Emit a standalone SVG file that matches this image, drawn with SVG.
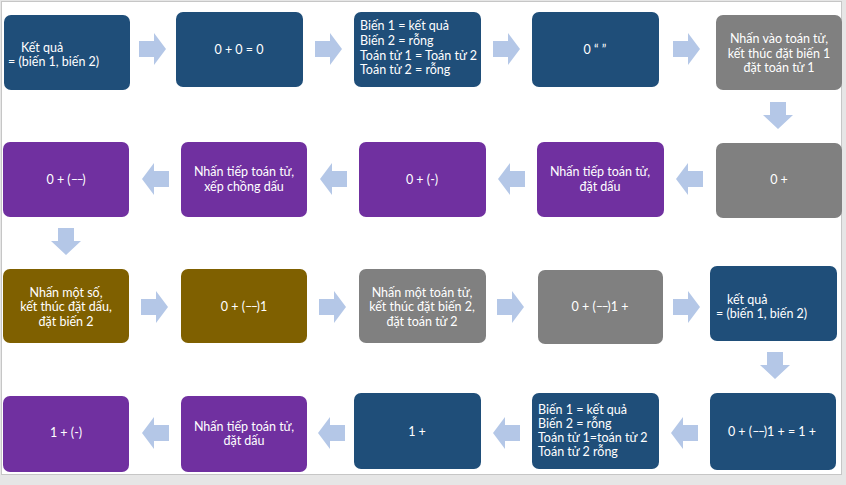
<svg xmlns="http://www.w3.org/2000/svg" xmlns:xlink="http://www.w3.org/1999/xlink" width="846" height="485" viewBox="0 0 846 485">
<style>
.blue{fill:#1f4e79}
.pur{fill:#7030a0}
.olv{fill:#7f6000}
.gry{fill:#808080}
text{font-family:Lato,"Liberation Sans",sans-serif;font-size:12.5px;fill:#ffffff}
.c{text-anchor:middle}
.d{letter-spacing:-1.5px}
.arr{fill:#b4c7e7}
</style>
<defs>
<path id="ra" d="M0,8 H15 V0 L27,16 L15,32 V24 H0 Z"/>
<path id="la" d="M27,8 H12 V0 L0,16 L12,32 V24 H27 Z"/>
<path id="da" d="M7,0 H23 V13 H30 L15,27 L0,13 H7 Z"/>
</defs>
<rect x="0" y="0" width="846" height="485" fill="#e6e6e6"/>
<rect x="1.5" y="1.5" width="840" height="473" fill="#ffffff" stroke="#c6c6c6" stroke-width="1"/>

<g id="connectors" class="arr">
<use xlink:href="#ra" x="139" y="33"/>
<use xlink:href="#ra" x="315" y="33"/>
<use xlink:href="#ra" x="493" y="33"/>
<use xlink:href="#ra" x="673" y="33"/>
<use xlink:href="#da" x="763" y="102"/>
<use xlink:href="#la" x="676" y="163"/>
<use xlink:href="#la" x="498" y="163"/>
<use xlink:href="#la" x="320" y="163"/>
<use xlink:href="#la" x="142" y="163"/>
<use xlink:href="#da" x="51" y="228"/>
<use xlink:href="#ra" x="141" y="291"/>
<use xlink:href="#ra" x="319" y="291"/>
<use xlink:href="#ra" x="497" y="291"/>
<use xlink:href="#ra" x="673" y="291"/>
<use xlink:href="#da" x="760" y="352"/>
<use xlink:href="#la" x="671" y="417"/>
<use xlink:href="#la" x="493" y="417"/>
<use xlink:href="#la" x="318" y="417"/>
<use xlink:href="#la" x="142" y="417"/>
</g>

<g id="n1"><rect class="blue" x="4" y="15" width="126" height="75" rx="7"/>
<text x="21" y="52">Kết quả</text><text x="8" y="66">= (biến 1, biến 2)</text></g>
<g id="n2"><rect class="blue" x="176" y="12" width="127" height="75" rx="7"/>
<text class="c" x="239" y="54">0 + 0 = 0</text></g>
<g id="n3"><rect class="blue" x="354" y="12" width="127" height="75" rx="7"/>
<text x="360" y="30">Biến 1 = kết quả</text><text x="360" y="45">Biến 2 = rỗng</text><text x="360" y="60">Toán tử 1 = Toán tử 2</text><text x="360" y="74">Toán tử 2 = rỗng</text></g>
<g id="n4"><rect class="blue" x="532" y="12" width="127" height="75" rx="7"/>
<text class="c" x="595" y="54">0 “ ”</text></g>
<g id="n5"><rect class="gry" x="716" y="15" width="126" height="75" rx="7"/>
<text class="c" x="779" y="43">Nhấn vào toán tử,</text><text class="c" x="779" y="58">kết thúc đặt biến 1</text><text class="c" x="779" y="72">đặt toán tử 1</text></g>

<g id="n6"><rect class="gry" x="716" y="143" width="126" height="75" rx="7"/>
<text class="c" x="779" y="184">0 +</text></g>
<g id="n7"><rect class="pur" x="537" y="142" width="127" height="75" rx="7"/>
<text class="c" x="600" y="176">Nhấn tiếp toán tử,</text><text class="c" x="600" y="191">đặt dấu</text></g>
<g id="n8"><rect class="pur" x="359" y="142" width="127" height="75" rx="7"/>
<text class="c" x="422" y="184">0 + (-)</text></g>
<g id="n9"><rect class="pur" x="181" y="142" width="126" height="75" rx="7"/>
<text class="c" x="244" y="176">Nhấn tiếp toán tử,</text><text class="c" x="244" y="191">xếp chồng dấu</text></g>
<g id="n10"><rect class="pur" x="3" y="142" width="126" height="75" rx="7"/>
<text class="c" x="66" y="184">0 + (<tspan class="d">––</tspan>)</text></g>

<g id="n11"><rect class="olv" x="3" y="269" width="126" height="74" rx="7"/>
<text class="c" x="66" y="297">Nhấn một số,</text><text class="c" x="66" y="311">kết thúc đặt dấu,</text><text class="c" x="66" y="326">đặt biến 2</text></g>
<g id="n12"><rect class="olv" x="181" y="269" width="126" height="74" rx="7"/>
<text class="c" x="244" y="311">0 + (<tspan class="d">––</tspan>)1</text></g>
<g id="n13"><rect class="gry" x="359" y="269" width="127" height="74" rx="7"/>
<text class="c" x="422" y="297">Nhấn một toán tử,</text><text class="c" x="422" y="311">kết thúc đặt biến 2,</text><text class="c" x="422" y="326">đặt toán tử 2</text></g>
<g id="n14"><rect class="gry" x="538" y="270" width="125" height="74" rx="7"/>
<text class="c" x="600" y="311">0 + (<tspan class="d">––</tspan>)1 +</text></g>
<g id="n15"><rect class="blue" x="710" y="266" width="127" height="75" rx="7"/>
<text x="727" y="304">kết quả</text><text x="716" y="318">= (biến 1, biến 2)</text></g>

<g id="n16"><rect class="blue" x="710" y="393" width="126" height="77" rx="7"/>
<text class="c" x="772" y="436">0 + (<tspan class="d">––</tspan>)1 + = 1 +</text></g>
<g id="n17"><rect class="blue" x="532" y="393" width="127" height="76" rx="7"/>
<text x="538" y="414">Biến 1 = kết quả</text><text x="538" y="428">Biến 2 = rỗng</text><text x="538" y="442">Toán tử 1=toán tử 2</text><text x="538" y="456">Toán tử 2 rỗng</text></g>
<g id="n18"><rect class="blue" x="354" y="393" width="127" height="76" rx="7"/>
<text class="c" x="417" y="436">1 +</text></g>
<g id="n19"><rect class="pur" x="181" y="396" width="126" height="76" rx="7"/>
<text class="c" x="244" y="431">Nhấn tiếp toán tử,</text><text class="c" x="244" y="445">đặt dấu</text></g>
<g id="n20"><rect class="pur" x="3" y="396" width="126" height="76" rx="7"/>
<text class="c" x="66" y="437">1 + (-)</text></g>
</svg>
